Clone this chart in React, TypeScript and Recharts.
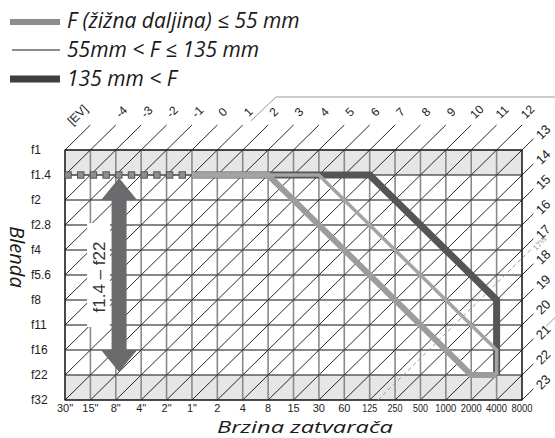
import React from 'react';
import {
  ComposedChart,
  Line,
  XAxis,
  YAxis,
  CartesianGrid,
  ReferenceLine,
  ReferenceArea,
  ReferenceDot,
} from 'recharts';

// column index = shutter speed, row index = aperture (0 = f1 at top)
const shutterLabels = ['30"', '15"', '8"', '4"', '2"', '1"', '2', '4', '8', '15', '30', '60', '125', '250', '500', '1000', '2000', '4000', '8000'];
const apertureLabels = ['f1', 'f1.4', 'f2', 'f2.8', 'f4', 'f5.6', 'f8', 'f11', 'f16', 'f22', 'f32'];
const evTopLabels = ['[EV]', '-4', '-3', '-2', '-1', '0', '1', '2', '3', '4', '5', '6', '7', '8', '9', '10', '11', '12'];
const evRightLabels = ['13', '14', '15', '16', '17', '18', '19', '20', '21', '22', '23'];

const wideProgram = [
  { c: 5, r: 1 },
  { c: 8, r: 1 },
  { c: 16, r: 9 },
  { c: 17, r: 9 },
];
const midProgram = [
  { c: 5, r: 1 },
  { c: 10, r: 1 },
  { c: 17, r: 8 },
  { c: 17, r: 9 },
];
const teleProgram = [
  { c: 5, r: 1 },
  { c: 12, r: 1 },
  { c: 17, r: 6 },
  { c: 17, r: 9 },
];
const dottedLine = [
  { c: 0, r: 1 },
  { c: 5, r: 1 },
];
const dottedSquares = [0.12, 0.62, 1.12, 1.62, 2.12, 2.62, 3.12, 3.62, 4.12, 4.62].map((c) => ({ c, r: 1 }));

const ev17third = 22.33; // EV 17 1/3 in column+row units

const TICK_FONT = 'Liberation Sans, Arial, sans-serif';
const ITALIC_FONT = 'Open Sans, sans-serif';

const COLS = 18;
const ROWS = 10;

// diagonal through grid corners where c + r = k
function diagonal(k: number) {
  const start = k <= ROWS ? { x: 0, y: k } : { x: k - ROWS, y: ROWS };
  const end = k <= COLS ? { x: k, y: 0 } : { x: COLS, y: k - COLS };
  return [start, end];
}
function extension(k: number) {
  if (k < COLS) return [{ x: k, y: 0 }, { x: k + 1, y: -1 }];
  return [{ x: COLS, y: k - COLS }, { x: COLS + 0.45, y: k - COLS - 0.45 }];
}

const ShutterTick = (p: any) => {
  const label = shutterLabels[p.index];
  const squeeze = !label.includes('"') && label.length >= 3;
  return (
    <text
      x={p.x}
      y={412}
      textAnchor="middle"
      fontSize={11}
      fontFamily={TICK_FONT}
      fill="#222"
      textLength={squeeze ? (label.length === 4 ? 21 : 15) : undefined}
      lengthAdjust="spacingAndGlyphs"
    >
      {label}
    </text>
  );
};

const ApertureTick = (p: any) => (
  <text x={31} y={p.y} dy={4} textAnchor="start" fontSize={12} fontFamily={TICK_FONT} fill="#222">
    {apertureLabels[p.index]}
  </text>
);

const rotatedText = (label: string, size: number, angle: number, color = '#222') => (p: any) => (
  <text
    x={p.cx}
    y={p.cy}
    textAnchor="middle"
    dominantBaseline="central"
    fontSize={size}
    fontFamily={TICK_FONT}
    fill={color}
    transform={`rotate(${angle} ${p.cx} ${p.cy})`}
  >
    {label}
  </text>
);

const DoubleArrow = (p: any) => {
  const x = p.x1;
  const top = Math.min(p.y1, p.y2);
  const bot = Math.max(p.y1, p.y2);
  const hw = 18;
  const hh = 22;
  const sw = 7.5;
  const pts = [
    [x, top],
    [x + hw, top + hh],
    [x + sw, top + hh],
    [x + sw, bot - hh],
    [x + hw, bot - hh],
    [x, bot],
    [x - hw, bot - hh],
    [x - sw, bot - hh],
    [x - sw, top + hh],
    [x - hw, top + hh],
  ]
    .map((q) => q.join(','))
    .join(' ');
  return <polygon points={pts} fill="#6b6b6d" />;
};

const SquareDot = (p: any) => (
  <rect key={p.index} x={p.cx - 3.2} y={p.cy - 3.2} width={6.4} height={6.4} fill="#8f8f8f" stroke="#555" strokeWidth={1} />
);

export default function App() {
  const ks = Array.from({ length: 29 }, (_, k) => k);
  return (
    <div style={{ position: 'absolute', left: 0, top: 0, width: 555, height: 438, background: '#fff' }}>
      <ComposedChart width={555} height={438} margin={{ top: 150, right: 33, bottom: 8, left: 8 }}>
        <CartesianGrid
          vertical={false}
          stroke="#111"
          strokeWidth={1.1}
          horizontalFill={['#e6e6e6', 'none', 'none', 'none', 'none', 'none', 'none', 'none', 'none', '#e6e6e6', 'none']}
          fillOpacity={1}
        />
        <CartesianGrid horizontal={false} stroke="#8a8a8a" strokeWidth={1.6} />
        <XAxis
          type="number"
          dataKey="c"
          domain={[0, 18]}
          ticks={shutterLabels.map((_, i) => i)}
          interval={0}
          axisLine={false}
          tickLine={false}
          height={30}
          tick={ShutterTick}
          allowDataOverflow
        />
        <YAxis
          type="number"
          dataKey="r"
          domain={[0, 10]}
          reversed
          ticks={apertureLabels.map((_, i) => i)}
          interval={0}
          axisLine={false}
          tickLine={false}
          width={57}
          tick={ApertureTick}
          allowDataOverflow
        />

        {ks
          .filter((k) => k > 0 && k < 28)
          .map((k) => (
            <ReferenceLine key={'d' + k} segment={diagonal(k)} stroke="#111" strokeWidth={0.9} ifOverflow="visible" zIndex={-50} />
          ))}
        {ks.map((k) => (
          <ReferenceLine key={'e' + k} segment={extension(k)} stroke="#111" strokeWidth={0.9} ifOverflow="visible" zIndex={-50} />
        ))}
        <ReferenceArea x1={0} x2={18} y1={0} y2={10} fill="none" stroke="#111" strokeWidth={1.2} ifOverflow="visible" zIndex={-40} />

        <ReferenceLine
          segment={[
            { x: ev17third - ROWS, y: ROWS },
            { x: 18.35, y: ev17third - 18.35 },
          ]}
          stroke="#9a9a9a"
          strokeDasharray="4 3"
          strokeWidth={1}
          ifOverflow="visible"
          zIndex={-30}
        />
        <ReferenceLine
          segment={[
            { x: 7.32, y: -1.16 },
            { x: 8.31, y: -2.12 },
          ]}
          stroke="#999"
          strokeWidth={1}
          ifOverflow="visible"
        />
        <ReferenceLine
          segment={[
            { x: 8.31, y: -2.12 },
            { x: 19.5, y: -2.12 },
          ]}
          stroke="#999"
          strokeWidth={1}
          ifOverflow="visible"
        />
        <ReferenceLine
          segment={[
            { x: 18.95, y: 7.05 },
            { x: 19.5, y: 6.5 },
          ]}
          stroke="#999"
          strokeWidth={1}
          ifOverflow="visible"
        />

        {evTopLabels.map((label, k) => (
          <ReferenceDot
            key={'t' + k}
            x={k === 0 ? 0.5 : k + 1.22}
            y={k === 0 ? -1.4 : -1.52}
            r={0}
            ifOverflow="visible"
            shape={rotatedText(label, 12, -45)}
          />
        ))}
        {evRightLabels.map((label, i) => (
          <ReferenceDot
            key={'rt' + i}
            x={18.83}
            y={i - 0.72}
            r={0}
            ifOverflow="visible"
            shape={rotatedText(label, 13, -45)}
          />
        ))}
        <ReferenceDot x={18.7} y={3.75} r={0} ifOverflow="visible" shape={rotatedText('17⅓', 8, -45, '#999')} />

        <ReferenceArea x1={0.87} x2={1.77} y1={2.92} y2={7.08} fill="#fff" fillOpacity={1} stroke="none" zIndex={-20} />
        <ReferenceDot x={1.34} y={5.08} r={0} ifOverflow="visible" shape={rotatedText('f1.4 – f22', 17, -90, '#333')} />

        <Line data={teleProgram} dataKey="r" stroke="#555557" strokeWidth={7} dot={false} isAnimationActive={false} strokeLinejoin="miter" />
        <Line data={wideProgram} dataKey="r" stroke="#9c9c9c" strokeWidth={6} dot={false} isAnimationActive={false} strokeLinejoin="miter" />
        <Line data={midProgram} dataKey="r" stroke="#a4a4a4" strokeWidth={3.5} dot={false} isAnimationActive={false} strokeLinejoin="miter" />
        <Line data={dottedLine} dataKey="r" stroke="#666" strokeWidth={1.6} dot={false} isAnimationActive={false} />
        <Line data={dottedSquares} dataKey="r" stroke="none" dot={SquareDot} isAnimationActive={false} />

        <ReferenceLine
          segment={[
            { x: 2.13, y: 1.12 },
            { x: 2.13, y: 8.88 },
          ]}
          ifOverflow="visible"
          shape={DoubleArrow}
          zIndex={600}
        />
      </ComposedChart>

      <svg width={555} height={438} style={{ position: 'absolute', left: 0, top: 0, pointerEvents: 'none' }}>
        <line x1={10} x2={60} y1={22} y2={22} stroke="#8c8c8c" strokeWidth={6} />
        <line x1={12} x2={60} y1={50} y2={50} stroke="#8c8c8c" strokeWidth={2} />
        <line x1={10} x2={60} y1={79} y2={79} stroke="#3f3f3f" strokeWidth={7} />
        <g fontFamily={ITALIC_FONT} fontStyle="italic" fill="#1a1a1a">
          <text x={67} y={28} fontSize={21}>F (žižna daljina) ≤ 55 mm</text>
          <text x={67} y={57} fontSize={21}>55mm &lt; F ≤ 135 mm</text>
          <text x={67} y={86} fontSize={21}>135 mm &lt; F</text>
          <text x={217} y={432.5} fontSize={17} textLength={176} lengthAdjust="spacingAndGlyphs">
            Brzina zatvarača
          </text>
          <text x={17} y={257} fontSize={20} textAnchor="middle" dominantBaseline="central" transform="rotate(90 17 257)">
            Blenda
          </text>
        </g>
      </svg>
    </div>
  );
}
